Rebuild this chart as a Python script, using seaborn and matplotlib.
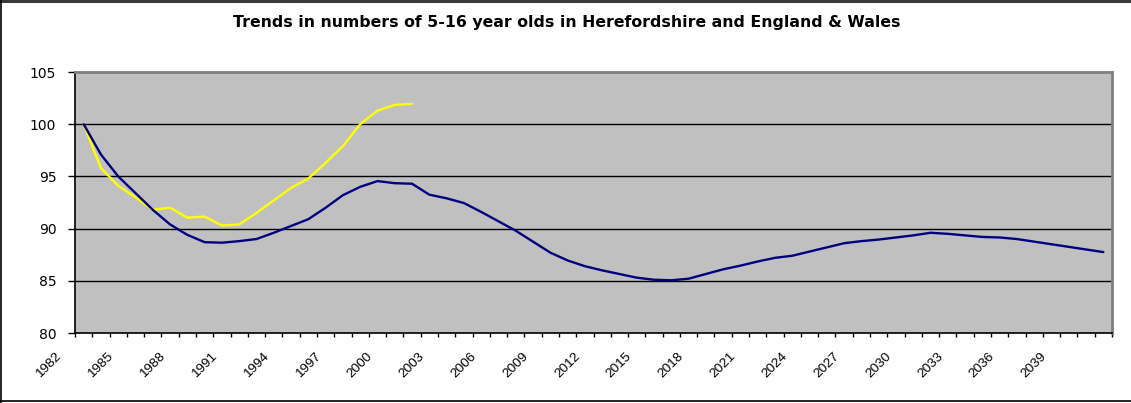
import numpy as np
import pandas as pd
import seaborn as sns
import matplotlib
matplotlib.use("Agg")
import matplotlib.pyplot as plt
from matplotlib import transforms
from matplotlib.lines import Line2D

# ---------------- data ----------------
years = list(range(1982, 2042))
england_wales = [
    100.0, 97.1, 95.0, 93.4, 91.8, 90.4, 89.4, 88.7, 88.65, 88.8,
    89.0, 89.6, 90.25, 90.9, 92.0, 93.2, 94.0, 94.55, 94.35, 94.3,
    93.25, 92.9, 92.45, 91.6, 90.7, 89.8, 88.75, 87.7, 86.95, 86.4,
    86.0, 85.65, 85.3, 85.1, 85.05, 85.2, 85.65, 86.1, 86.45, 86.85,
    87.2, 87.4, 87.8, 88.2, 88.6, 88.8, 88.95, 89.15, 89.35, 89.6,
    89.5, 89.35, 89.2, 89.15, 89.0, 88.75, 88.5, 88.25, 88.0, 87.75,
]
hereford_years = list(range(1982, 2002))
herefordshire = [
    100.0, 95.8, 94.1, 93.0, 91.8, 92.0, 91.05, 91.15, 90.3, 90.4,
    91.5, 92.7, 93.9, 94.8, 96.3, 97.9, 100.0, 101.3, 101.85, 101.95,
]
y_ticks = [80, 85, 90, 95, 100, 105]
x_label_years = list(range(1982, 2040, 3))
title = "Trends in numbers of 5-16 year olds in Herefordshire and England & Wales"

# ---------------- style ----------------
sns.set_theme(style="white")
plt.rcParams['font.family'] = ['DejaVu Sans']

W, H = 1131, 403
fig = plt.figure(figsize=(W / 100, H / 100), dpi=100)
fig.patch.set_facecolor('white')
left, right, top, bottom = 75, 1112, 72, 333
ax = fig.add_axes([left / W, 1 - bottom / H, (right - left) / W, (bottom - top) / H])
ax.set_facecolor('#C0C0C0')

cat = {y: i for i, y in enumerate(years)}
df_ew = pd.DataFrame({'pos': [cat[y] for y in years], 'value': england_wales})
df_h = pd.DataFrame({'pos': [cat[y] for y in hereford_years], 'value': herefordshire})

for v in y_ticks[1:-1]:
    ax.axhline(v, color='black', lw=1.0, zorder=1)

sns.lineplot(data=df_h, x='pos', y='value', color='#FFFF00', lw=1.7, ax=ax, zorder=3)
sns.lineplot(data=df_ew, x='pos', y='value', color='#000080', lw=1.7, ax=ax, zorder=4)

ax.set_xlim(-0.5, len(years) - 0.5)
ax.set_ylim(y_ticks[0], y_ticks[-1])
ax.set_xlabel('')
ax.set_ylabel('')

# y axis
ax.set_yticks(y_ticks)
ax.set_yticklabels([str(v) for v in y_ticks])
ax.tick_params(axis='y', which='major', direction='out', length=5, width=1,
               color='black', pad=8.5, labelsize=10, labelcolor='black', left=True)

# x axis: boundary ticks (minor) and labels at category centres (major)
ax.set_xticks(np.arange(-0.5, len(years), 1.0), minor=True)
ax.set_xticks([cat[y] for y in x_label_years])
ax.set_xticklabels([str(y) for y in x_label_years])
ax.tick_params(axis='x', which='minor', direction='out', length=3, width=1,
               color='black', bottom=True)
ax.tick_params(axis='x', which='major', length=0, pad=15.5, labelsize=9.7,
               labelcolor='black', bottom=True)
offset = transforms.ScaledTranslation(-24 / 100, 0, fig.dpi_scale_trans)
for lab in ax.get_xticklabels():
    lab.set_rotation(45)
    lab.set_ha('right')
    lab.set_va('center')
    lab.set_rotation_mode('anchor')
    lab.set_fontfamily(['Liberation Sans', 'DejaVu Sans'])
    lab.set_transform(lab.get_transform() + offset)

# spines
for s in ['left', 'bottom']:
    ax.spines[s].set_color('black')
    ax.spines[s].set_linewidth(1.2)
for s in ['top', 'right']:
    ax.spines[s].set_color('#808080')
    ax.spines[s].set_linewidth(2)
for s in ax.spines.values():
    s.set_visible(True)
    s.set_zorder(5)

# title
fig.text(0.5009, 1 - 22.5 / H, title, ha='center', va='center',
         fontsize=11.3, fontweight='bold', color='black')

# outer chart frame
fig.add_artist(Line2D([0, 1], [1 - 1.2 / H, 1 - 1.2 / H], transform=fig.transFigure,
                      color='#3a3a3a', lw=2.2))
fig.add_artist(Line2D([0.8 / W, 0.8 / W], [0, 1], transform=fig.transFigure,
                      color='black', lw=1.2))
fig.add_artist(Line2D([0, 1], [1 - 400.5 / H, 1 - 400.5 / H], transform=fig.transFigure,
                      color='black', lw=1.2))

fig.savefig('out.png', dpi=100)
